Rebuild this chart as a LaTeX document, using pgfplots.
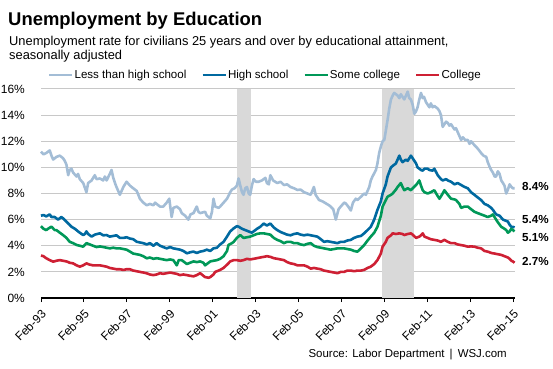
\documentclass[border=0pt]{standalone}
\usepackage{fontspec}
\setmainfont{Liberation Sans}
\usepackage{pgfplots}
\pgfplotsset{compat=1.18}
\definecolor{lhs}{RGB}{163,189,214}
\definecolor{hs}{RGB}{0,105,160}
\definecolor{sc}{RGB}{0,152,88}
\definecolor{col}{RGB}{206,32,52}
\definecolor{shade}{RGB}{217,217,217}
\definecolor{gridc}{RGB}{200,200,200}
\begin{document}
\begin{tikzpicture}
\path[use as bounding box] (0,0) rectangle (553bp,369bp);
\node[anchor=base west, inner sep=0pt, font=\fontsize{18.5}{20}\selectfont\bfseries] at (8bp,343bp) {Unemployment by Education};
\node[anchor=base west, inner sep=0pt, font=\fontsize{12.9}{14}\selectfont] at (9bp,323bp) {Unemployment rate for civilians 25 years and over by educational attainment,};
\node[anchor=base west, inner sep=0pt, font=\fontsize{12.9}{14}\selectfont] at (9bp,309bp) {seasonally adjusted};
\begin{axis}[
  at={(41bp,71bp)}, anchor=south west,
  width=474bp, height=209bp, scale only axis,
  xmin=1993.083, xmax=2015.17, ymin=0, ymax=16,
  clip=false,
  axis x line*=bottom, axis y line*=left,
  y axis line style={draw=none},
  x axis line style={black, line width=1.1bp},
  xtick={1993.083,1995.083,1997.083,1999.083,2001.083,2003.083,2005.083,2007.083,2009.083,2011.083,2013.083,2015.083},
  xticklabels={Feb-93,Feb-95,Feb-97,Feb-99,Feb-01,Feb-03,Feb-05,Feb-07,Feb-09,Feb-11,Feb-13,Feb-15},
  xtick style={black, line width=1bp},
  major tick length=4bp,
  tick align=outside,
  xticklabel style={font=\fontsize{12}{13}\selectfont, xshift=3bp, yshift=-10bp, rotate=45, anchor=east, inner sep=0pt},
  ytick={0,2,4,6,8,10,12,14,16},
  yticklabels={0\%,2\%,4\%,6\%,8\%,10\%,12\%,14\%,16\%},
  ytick style={draw=none},
  yticklabel style={font=\fontsize{12}{14}\selectfont, anchor=east, inner sep=0pt, xshift=-12bp},
  ymajorgrids, grid style={gridc, line width=1bp},
  legend columns=4,
  legend style={draw=none, fill=none, at={(rel axis cs:0.0148,1.067)}, anchor=west,
     font=\fontsize{11.6}{13}\selectfont, inner sep=0pt, outer sep=0pt,
     /tikz/every even column/.append style={column sep=14bp},
     nodes={inner sep=1bp}},
  legend image code/.code={\draw[#1, line width=2.6bp] (0bp,0bp) -- (23bp,0bp);},
  every axis plot/.append style={line width=2.6bp, line join=round},
]
\addplot[forget plot, draw=none, fill=shade] coordinates {(2002.23,0) (2002.23,16) (2002.85,16) (2002.85,0)} -- cycle;
\addplot[forget plot, draw=none, fill=shade] coordinates {(2008.98,0) (2008.98,16) (2010.48,16) (2010.48,0)} -- cycle;
% Less than high school
\addplot[lhs] coordinates {(1993.08,11.2) (1993.20,11.0) (1993.33,11.1) (1993.49,11.3) (1993.57,10.9) (1993.65,10.6) (1993.80,10.8) (1993.96,10.9) (1994.11,10.7) (1994.19,10.5) (1994.27,10.2) (1994.35,9.4) (1994.42,9.8) (1994.50,9.9) (1994.58,9.6) (1994.74,9.3) (1994.81,9.5) (1994.89,9.1) (1995.05,8.8) (1995.20,8.1) (1995.28,8.8) (1995.44,9.0) (1995.59,9.4) (1995.67,9.1) (1995.83,9.15) (1995.98,9.0) (1996.06,9.3) (1996.14,9.0) (1996.29,9.5) (1996.37,9.8) (1996.45,9.2) (1996.53,8.8) (1996.60,8.5) (1996.76,7.9) (1996.92,8.5) (1997.07,8.9) (1997.23,8.6) (1997.38,8.4) (1997.54,8.2) (1997.62,7.9) (1997.69,7.6) (1997.85,7.3) (1998.01,7.1) (1998.16,7.2) (1998.32,7.1) (1998.40,7.3) (1998.47,7.2) (1998.63,7.0) (1998.78,7.0) (1998.94,7.3) (1999.06,7.6) (1999.17,6.2) (1999.25,6.9) (1999.41,7.0) (1999.56,6.8) (1999.64,6.5) (1999.80,6.3) (1999.95,6.0) (2000.05,6.4) (2000.19,6.5) (2000.34,7.0) (2000.42,6.6) (2000.50,6.5) (2000.73,6.6) (2000.81,6.3) (2000.97,6.1) (2001.05,6.6) (2001.12,7.6) (2001.20,7.0) (2001.36,6.9) (2001.43,7.0) (2001.59,7.3) (2001.75,7.6) (2001.90,8.1) (2001.98,8.3) (2002.10,8.4) (2002.21,8.6) (2002.29,9.15) (2002.37,8.6) (2002.45,8.1) (2002.52,7.9) (2002.60,8.4) (2002.68,8.5) (2002.76,8.0) (2002.83,7.9) (2002.91,8.6) (2002.99,9.1) (2003.10,8.9) (2003.22,8.9) (2003.38,9.0) (2003.54,9.2) (2003.61,8.8) (2003.70,8.7) (2003.77,9.4) (2003.90,9.0) (2004.09,8.8) (2004.25,8.9) (2004.40,8.65) (2004.55,8.7) (2004.71,8.5) (2004.87,8.4) (2005.03,8.27) (2005.18,8.3) (2005.34,8.1) (2005.50,8.0) (2005.65,7.9) (2005.80,8.5) (2005.88,7.9) (2006.04,7.5) (2006.20,7.4) (2006.35,7.25) (2006.50,7.1) (2006.58,7.0) (2006.70,6.8) (2006.82,6.0) (2006.95,6.8) (2007.05,7.0) (2007.21,7.3) (2007.28,7.25) (2007.40,7.0) (2007.52,6.7) (2007.62,7.3) (2007.75,7.6) (2007.83,7.5) (2007.99,7.75) (2008.14,8.0) (2008.22,7.9) (2008.38,8.5) (2008.45,9.0) (2008.53,9.3) (2008.69,9.8) (2008.76,10.3) (2008.84,11.1) (2008.92,11.6) (2009.00,12.0) (2009.08,12.1) (2009.15,12.8) (2009.23,13.6) (2009.31,14.5) (2009.39,15.2) (2009.47,15.5) (2009.54,15.7) (2009.62,15.6) (2009.70,15.5) (2009.78,15.3) (2009.85,15.6) (2009.93,15.4) (2010.01,15.2) (2010.09,15.5) (2010.17,15.8) (2010.24,15.3) (2010.32,15.2) (2010.40,14.8) (2010.48,14.1) (2010.56,14.3) (2010.63,14.6) (2010.71,15.2) (2010.79,15.7) (2010.87,15.3) (2010.93,15.4) (2011.02,15.0) (2011.10,14.8) (2011.18,14.6) (2011.25,14.9) (2011.33,14.6) (2011.41,14.7) (2011.57,14.5) (2011.65,14.3) (2011.72,14.0) (2011.80,13.1) (2011.88,13.3) (2011.96,13.5) (2012.04,13.4) (2012.11,13.2) (2012.19,13.3) (2012.35,12.9) (2012.42,13.0) (2012.50,12.7) (2012.58,12.4) (2012.66,12.1) (2012.74,12.3) (2012.85,12.1) (2012.97,12.1) (2013.05,11.8) (2013.12,12.0) (2013.28,11.7) (2013.40,11.5) (2013.50,11.3) (2013.59,11.1) (2013.70,10.9) (2013.83,10.8) (2013.90,10.4) (2014.00,10.0) (2014.06,9.8) (2014.14,9.6) (2014.22,9.3) (2014.29,9.3) (2014.37,9.7) (2014.45,9.5) (2014.53,9.0) (2014.61,8.8) (2014.68,8.6) (2014.76,8.0) (2014.84,8.3) (2014.92,8.7) (2015.00,8.5) (2015.07,8.4) (2015.15,8.4)};
\addlegendentry{Less than high school}
% High school
\addplot[hs] coordinates {(1993.08,6.3) (1993.20,6.35) (1993.33,6.25) (1993.49,6.4) (1993.57,6.2) (1993.72,6.2) (1993.88,6.0) (1994.03,6.2) (1994.11,6.1) (1994.27,5.84) (1994.42,5.6) (1994.50,5.46) (1994.66,5.3) (1994.81,5.1) (1994.89,5.0) (1995.05,4.82) (1995.13,4.9) (1995.20,5.1) (1995.28,4.9) (1995.44,4.7) (1995.59,4.85) (1995.83,4.95) (1995.98,4.8) (1996.14,4.82) (1996.29,4.7) (1996.60,4.8) (1996.76,4.6) (1996.92,4.6) (1997.07,4.65) (1997.23,4.55) (1997.38,4.5) (1997.54,4.31) (1997.69,4.25) (1997.85,4.2) (1998.01,4.1) (1998.16,4.2) (1998.32,4.0) (1998.47,4.2) (1998.63,4.0) (1998.78,3.9) (1998.94,3.8) (1999.10,3.9) (1999.25,3.8) (1999.41,3.75) (1999.56,3.7) (1999.72,3.6) (1999.88,3.42) (2000.03,3.5) (2000.19,3.55) (2000.34,3.45) (2000.50,3.55) (2000.65,3.6) (2000.81,3.7) (2000.97,3.6) (2001.12,3.8) (2001.28,3.85) (2001.43,4.1) (2001.59,4.3) (2001.75,4.7) (2001.90,5.1) (2002.06,5.33) (2002.21,5.5) (2002.29,5.46) (2002.45,5.3) (2002.60,5.2) (2002.75,5.1) (2002.91,5.0) (2002.99,5.1) (2003.15,5.3) (2003.30,5.45) (2003.46,5.7) (2003.61,5.55) (2003.77,5.7) (2003.93,5.4) (2004.09,5.2) (2004.25,5.05) (2004.40,4.95) (2004.55,4.85) (2004.71,4.8) (2004.87,4.9) (2005.03,4.95) (2005.18,4.85) (2005.34,4.8) (2005.50,4.85) (2005.65,4.8) (2005.80,4.75) (2005.96,4.7) (2006.12,4.5) (2006.27,4.3) (2006.43,4.35) (2006.58,4.3) (2006.74,4.25) (2006.90,4.2) (2007.05,4.3) (2007.21,4.3) (2007.36,4.4) (2007.52,4.45) (2007.67,4.6) (2007.83,4.7) (2007.99,4.75) (2008.14,4.95) (2008.30,5.2) (2008.45,5.45) (2008.61,6.0) (2008.76,6.74) (2008.92,7.4) (2009.00,8.0) (2009.15,8.7) (2009.23,9.3) (2009.39,10.0) (2009.54,10.2) (2009.62,10.3) (2009.70,10.6) (2009.78,10.9) (2009.85,10.6) (2009.93,10.4) (2010.01,10.5) (2010.09,10.6) (2010.17,10.5) (2010.32,10.9) (2010.40,10.7) (2010.48,10.5) (2010.56,10.3) (2010.63,10.0) (2010.79,9.8) (2010.87,9.75) (2010.95,9.9) (2011.10,9.9) (2011.18,9.8) (2011.33,9.75) (2011.41,9.9) (2011.57,9.4) (2011.72,9.1) (2011.80,9.0) (2011.96,9.1) (2012.04,9.0) (2012.19,8.9) (2012.35,8.7) (2012.50,8.8) (2012.66,8.65) (2012.82,8.5) (2012.97,8.4) (2013.12,8.1) (2013.28,7.9) (2013.43,7.7) (2013.59,7.5) (2013.75,7.2) (2013.90,7.1) (2014.06,6.9) (2014.14,6.75) (2014.29,6.4) (2014.45,6.3) (2014.61,6.0) (2014.76,5.9) (2014.84,5.85) (2014.92,5.6) (2015.00,5.45) (2015.07,5.45) (2015.15,5.4)};
\addlegendentry{High school}
% Some college
\addplot[sc] coordinates {(1993.08,5.5) (1993.20,5.3) (1993.33,5.2) (1993.41,5.3) (1993.57,5.46) (1993.72,5.2) (1993.80,5.2) (1993.96,5.0) (1994.11,4.82) (1994.27,4.6) (1994.42,4.3) (1994.58,4.2) (1994.74,4.06) (1994.89,4.0) (1995.05,3.93) (1995.20,4.2) (1995.36,4.1) (1995.51,4.0) (1995.67,3.9) (1995.83,3.95) (1995.98,3.9) (1996.14,3.85) (1996.29,3.8) (1996.45,3.85) (1996.60,3.8) (1996.76,3.8) (1996.92,3.75) (1997.07,3.7) (1997.23,3.55) (1997.38,3.4) (1997.54,3.35) (1997.69,3.3) (1997.85,3.2) (1998.01,3.04) (1998.16,3.1) (1998.32,3.0) (1998.47,3.05) (1998.63,3.0) (1998.78,2.95) (1998.94,2.9) (1999.10,2.95) (1999.25,2.9) (1999.41,2.5) (1999.50,2.9) (1999.64,2.9) (1999.80,2.7) (1999.88,2.6) (2000.03,2.7) (2000.19,2.8) (2000.34,2.75) (2000.50,2.8) (2000.65,2.7) (2000.73,2.5) (2000.89,2.7) (2000.97,2.8) (2001.12,2.85) (2001.28,2.9) (2001.43,3.0) (2001.59,3.2) (2001.75,3.6) (2001.82,4.06) (2001.98,4.2) (2002.06,4.3) (2002.21,4.6) (2002.37,4.82) (2002.45,4.7) (2002.52,4.6) (2002.68,4.65) (2002.83,4.7) (2002.99,4.8) (2003.14,4.9) (2003.30,4.95) (2003.46,4.95) (2003.61,4.9) (2003.77,4.85) (2003.93,4.6) (2004.09,4.45) (2004.25,4.35) (2004.40,4.2) (2004.55,4.3) (2004.71,4.3) (2004.87,4.2) (2005.03,4.2) (2005.18,4.1) (2005.34,4.05) (2005.50,4.15) (2005.65,4.2) (2005.80,4.0) (2005.96,3.9) (2006.12,3.85) (2006.27,3.8) (2006.43,3.75) (2006.58,3.7) (2006.74,3.75) (2006.90,3.8) (2007.05,3.8) (2007.21,3.8) (2007.36,3.75) (2007.52,3.7) (2007.67,3.6) (2007.83,3.55) (2007.99,3.8) (2008.14,4.05) (2008.30,4.4) (2008.45,4.7) (2008.61,5.0) (2008.76,5.45) (2008.92,6.3) (2009.00,7.0) (2009.15,7.5) (2009.23,7.75) (2009.39,7.9) (2009.47,8.0) (2009.62,8.3) (2009.70,8.5) (2009.85,8.8) (2009.93,8.5) (2010.01,8.25) (2010.17,8.4) (2010.32,8.25) (2010.40,8.4) (2010.56,8.65) (2010.63,8.8) (2010.71,9.0) (2010.79,8.6) (2010.87,8.25) (2010.95,8.1) (2011.10,8.0) (2011.25,8.1) (2011.41,8.25) (2011.57,7.8) (2011.65,7.6) (2011.80,8.0) (2011.88,8.25) (2012.04,7.9) (2012.19,7.6) (2012.35,7.55) (2012.42,7.5) (2012.58,7.2) (2012.66,6.9) (2012.82,7.0) (2012.97,7.0) (2013.12,6.8) (2013.28,6.6) (2013.43,6.5) (2013.59,6.4) (2013.75,6.3) (2013.90,6.2) (2014.06,6.3) (2014.14,6.4) (2014.29,6.0) (2014.37,5.8) (2014.53,5.45) (2014.68,5.3) (2014.76,5.2) (2014.84,5.0) (2014.92,5.1) (2015.00,5.3) (2015.07,5.2) (2015.15,5.1)};
\addlegendentry{Some college}
% College
\addplot[col] coordinates {(1993.08,3.25) (1993.20,3.2) (1993.33,3.04) (1993.49,2.9) (1993.65,2.78) (1993.80,2.85) (1993.96,2.9) (1994.11,2.85) (1994.27,2.8) (1994.42,2.7) (1994.58,2.65) (1994.74,2.5) (1994.89,2.4) (1995.05,2.5) (1995.20,2.65) (1995.36,2.55) (1995.51,2.5) (1995.67,2.5) (1995.83,2.5) (1995.98,2.45) (1996.14,2.4) (1996.29,2.3) (1996.45,2.25) (1996.60,2.2) (1996.76,2.2) (1996.92,2.15) (1997.07,2.2) (1997.23,2.2) (1997.38,2.1) (1997.54,2.05) (1997.69,2.0) (1997.85,1.95) (1998.01,1.89) (1998.16,1.8) (1998.32,1.75) (1998.47,1.8) (1998.63,1.9) (1998.78,1.85) (1998.94,1.9) (1999.10,1.95) (1999.25,1.9) (1999.41,1.85) (1999.56,1.75) (1999.72,1.8) (1999.88,1.75) (2000.03,1.7) (2000.19,1.66) (2000.34,1.75) (2000.50,1.9) (2000.65,1.7) (2000.73,1.6) (2000.89,1.55) (2000.97,1.6) (2001.12,1.8) (2001.20,2.0) (2001.36,2.1) (2001.43,2.15) (2001.59,2.3) (2001.75,2.55) (2001.90,2.8) (2002.06,2.9) (2002.21,2.9) (2002.37,2.85) (2002.52,2.9) (2002.68,3.0) (2002.83,2.95) (2002.99,3.0) (2003.14,3.05) (2003.30,3.1) (2003.46,3.15) (2003.61,3.2) (2003.77,3.15) (2003.93,3.05) (2004.09,3.0) (2004.25,2.95) (2004.40,2.9) (2004.55,2.75) (2004.71,2.65) (2004.87,2.6) (2005.03,2.5) (2005.18,2.5) (2005.34,2.5) (2005.50,2.4) (2005.65,2.25) (2005.80,2.3) (2005.96,2.25) (2006.12,2.2) (2006.27,2.1) (2006.43,2.05) (2006.58,2.0) (2006.74,1.95) (2006.90,1.9) (2007.05,2.0) (2007.21,2.0) (2007.36,2.1) (2007.52,2.1) (2007.67,2.05) (2007.83,2.1) (2007.99,2.1) (2008.14,2.15) (2008.30,2.3) (2008.45,2.4) (2008.61,2.6) (2008.76,2.9) (2008.92,3.4) (2009.00,3.93) (2009.15,4.3) (2009.23,4.6) (2009.39,4.8) (2009.47,4.95) (2009.62,4.9) (2009.78,4.95) (2009.93,4.9) (2010.01,4.82) (2010.17,4.9) (2010.32,4.95) (2010.40,4.85) (2010.56,4.6) (2010.71,4.7) (2010.79,4.8) (2010.87,4.95) (2010.95,4.7) (2011.10,4.6) (2011.25,4.5) (2011.41,4.45) (2011.57,4.4) (2011.72,4.3) (2011.88,4.45) (2012.04,4.3) (2012.19,4.2) (2012.35,4.2) (2012.50,4.1) (2012.66,4.05) (2012.82,4.0) (2012.97,3.93) (2013.12,3.95) (2013.28,3.93) (2013.43,3.85) (2013.59,3.8) (2013.75,3.6) (2013.90,3.55) (2014.06,3.45) (2014.22,3.4) (2014.37,3.35) (2014.53,3.3) (2014.68,3.2) (2014.84,3.1) (2014.92,3.0) (2015.00,2.85) (2015.07,2.8) (2015.15,2.7)};
\addlegendentry{College}
\end{axis}
\begin{scope}[every node/.style={anchor=west, inner sep=0pt, font=\fontsize{11.7}{13}\selectfont\bfseries}]
\node at (522bp,182.3bp) {8.4\%};
\node at (522bp,149.7bp) {5.4\%};
\node at (522bp,131.7bp) {5.1\%};
\node at (522bp,107.3bp) {2.7\%};
\end{scope}
\node[anchor=base east, inner sep=0pt, font=\fontsize{11.5}{13}\selectfont] at (507bp,12bp) {Source: Labor Department \,|\, WSJ.com};
\end{tikzpicture}
\end{document}
